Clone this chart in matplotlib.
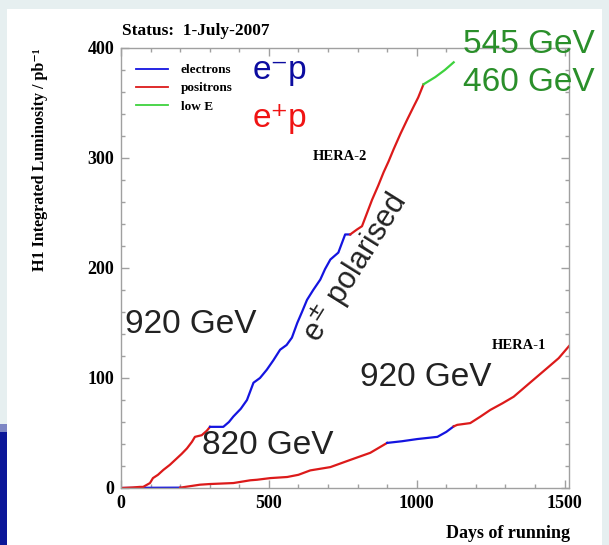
import matplotlib
matplotlib.use("Agg")
import matplotlib.pyplot as plt
from matplotlib.patches import Rectangle
from matplotlib.lines import Line2D
from matplotlib.ticker import MultipleLocator

# HERA-2 curve, split by beam type
h2_pos_a_days = [0, 40, 64, 75, 98, 108, 125, 143, 165, 189, 205, 223, 240, 250, 273, 290, 301]
h2_pos_a_lumi = [0, 0.5, 1, 1, 4.5, 9, 12, 16.4, 21, 27, 31, 36, 42, 46.5, 48, 52, 55.6]
h2_ele_days = [301, 346, 365, 380, 405, 426, 448, 470, 493, 515, 538, 560, 578, 596, 612, 629, 650, 674, 690, 708, 735, 758, 775]
h2_ele_lumi = [55.6, 55.6, 60, 65, 72, 80, 95.7, 100, 107.5, 116, 125.7, 130, 136.7, 150, 160, 171, 180, 189.5, 199, 207.7, 214, 230.5, 230.5]
h2_pos_b_days = [775, 798, 815, 832, 849, 870, 888, 905, 922, 945, 968, 990, 1005, 1023]
h2_pos_b_lumi = [230.5, 235, 238, 250, 262, 275, 287, 297, 308, 322, 335, 347, 355, 367]
h2_low_days = [1023, 1063, 1095, 1125]
h2_low_lumi = [367, 373.6, 380, 387]

# HERA-1 curve
h1_ele_a_days = [0, 100, 200]
h1_ele_a_lumi = [0, 0.2, 0.3]
h1_pos_a_days = [200, 267, 300, 380, 437, 460, 505, 562, 600, 640, 708, 775, 843, 900]
h1_pos_a_lumi = [0.3, 3, 3.6, 4.5, 7, 7.5, 9, 10, 12, 16, 19, 25.5, 32, 41]
h1_ele_b_days = [900, 950, 1002, 1070, 1100, 1125]
h1_ele_b_lumi = [41, 42.5, 44.5, 46.5, 51, 56]
h1_pos_b_days = [1125, 1137, 1181, 1216, 1249, 1290, 1328, 1380, 1441, 1480, 1515]
h1_pos_b_lumi = [56, 57.4, 59, 65, 71, 77, 83, 95, 109, 118, 129]

legend_labels = ["electrons", "positrons", "low E"]

BLUE = "#1414e0"
RED = "#dc1a1a"
GREEN = "#3ed23e"
serif = ["Liberation Serif", "DejaVu Serif"]
sans = ["Liberation Sans", "DejaVu Sans"]

W, H = 609, 545
fig = plt.figure(figsize=(W / 100, H / 100), dpi=100)
fig.patch.set_facecolor("#e6eff0")

# slide background: white panel plus dark blue swoosh bottom left
fig.add_artist(Rectangle((7 / W, 0), 595 / W, 1 - 9 / H, transform=fig.transFigure,
                         facecolor="white", edgecolor="none", zorder=0))
fig.add_artist(Rectangle((0, 0), 7 / W, (H - 432) / H, transform=fig.transFigure,
                         facecolor="#0b1798", edgecolor="none", zorder=0))
fig.add_artist(Rectangle((0, (H - 432) / H), 7 / W, 8 / H, transform=fig.transFigure,
                         facecolor="#7d86c4", edgecolor="none", zorder=0))

ax = fig.add_axes([121 / W, 1 - 488 / H, 448 / W, 440 / H])
ax.set_facecolor("none")

lw = 1.6
ax.plot(h1_ele_a_days, h1_ele_a_lumi, color=BLUE, lw=lw)
ax.plot(h1_pos_a_days, h1_pos_a_lumi, color=RED, lw=lw)
ax.plot(h1_ele_b_days, h1_ele_b_lumi, color=BLUE, lw=lw)
ax.plot(h1_pos_b_days, h1_pos_b_lumi, color=RED, lw=lw)
ax.plot(h2_pos_a_days, h2_pos_a_lumi, color=RED, lw=lw)
ax.plot(h2_ele_days, h2_ele_lumi, color=BLUE, lw=lw)
ax.plot(h2_pos_b_days, h2_pos_b_lumi, color=RED, lw=lw)
ax.plot(h2_low_days, h2_low_lumi, color=GREEN, lw=lw)

ax.set_xlim(0, 1515)
ax.set_ylim(0, 400)
ax.xaxis.set_major_locator(MultipleLocator(500))
ax.xaxis.set_minor_locator(MultipleLocator(100))
ax.yaxis.set_major_locator(MultipleLocator(100))
ax.yaxis.set_minor_locator(MultipleLocator(20))
for s in ax.spines.values():
    s.set_color("#a0a0a0")
    s.set_linewidth(1.0)
ax.tick_params(which="both", direction="in", top=True, right=True, color="#a0a0a0")
ax.tick_params(which="major", length=6, width=1.0, pad=5)
ax.tick_params(which="minor", length=3, width=1.0)
for lab in ax.get_xticklabels() + ax.get_yticklabels():
    lab.set_fontfamily(serif)
    lab.set_fontweight("bold")
    lab.set_fontsize(13)

# legend
handles = [Line2D([], [], color=c, lw=1.3) for c in (BLUE, RED, GREEN)]
ax.legend(handles, legend_labels, loc="upper left", bbox_to_anchor=(136 / W, 1 - 64 / H),
          bbox_transform=fig.transFigure, frameon=False, borderpad=0, borderaxespad=0,
          handlelength=2.4, handletextpad=1.0, labelspacing=0.45,
          prop={"family": serif, "weight": "bold", "size": 9.5})

# annotations
big = dict(fontfamily=sans, fontsize=24)
ax.text(444, 371.8, "e⁻p", color="#0c0ca0", ha="left", va="baseline", **big)
ax.text(444, 328, "e⁺p", color="#f01414", ha="left", va="baseline", **big)
ax.text(1158, 403.6, "545 GeV", color="#2a8f2a", ha="left", va="center", clip_on=False, **big)
ax.text(1158, 369, "460 GeV", color="#2a8f2a", ha="left", va="center", clip_on=False, **big)
ax.text(13.5, 148.5, "920 GeV", color="#222222", ha="left", va="center", **big)
ax.text(809, 100, "920 GeV", color="#222222", ha="left", va="center", **big)
ax.text(274, 39, "820 GeV", color="#222222", ha="left", va="center", **big)
ax.text(792, 200, r"e$^{\pm}$ polarised", color="#222222", ha="center", va="center",
        rotation=58, rotation_mode="anchor", fontfamily=sans, fontsize=22)
ax.text(833, 301.6, "HERA-2", ha="right", va="center", fontfamily=serif,
        fontweight="bold", fontsize=10.5)
ax.text(1436, 129.4, "HERA-1", ha="right", va="center", fontfamily=serif,
        fontweight="bold", fontsize=10.5)

fig.text(122 / W, 1 - 31 / H, "Status:  1-July-2007", ha="left", va="center",
         fontfamily=serif, fontweight="bold", fontsize=12.5)
fig.text(570 / W, 1 - 533 / H, "Days of running", ha="right", va="center",
         fontfamily=serif, fontweight="bold", fontsize=13)
fig.text(40 / W, 1 - 48 / H, "H1 Integrated Luminosity / pb⁻¹", ha="center", va="top",
         rotation=90, fontfamily=serif, fontweight="bold", fontsize=11.5)

fig.savefig("out.png", dpi=100, facecolor=fig.get_facecolor())
